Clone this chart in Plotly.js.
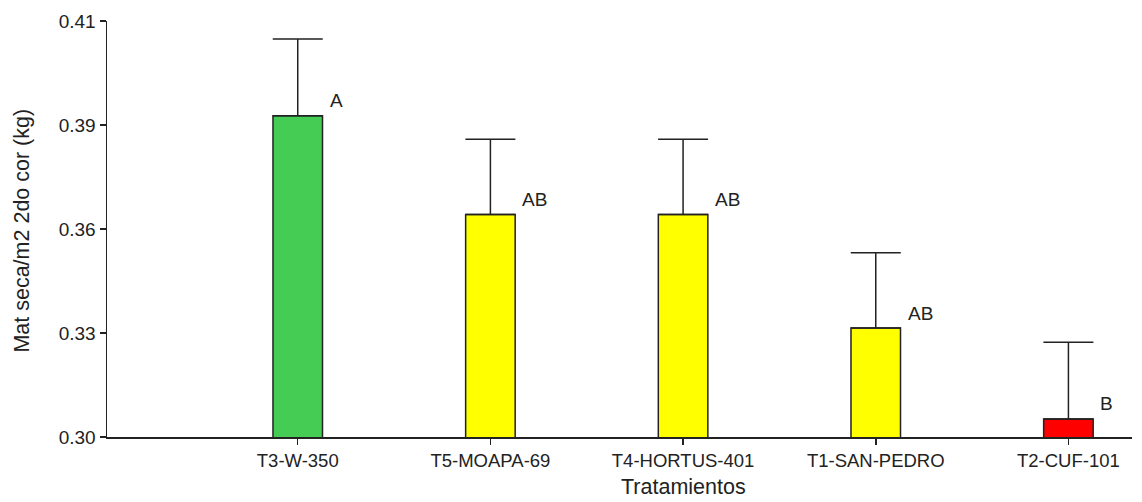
<!DOCTYPE html>
<html>
<head>
<meta charset="utf-8">
<script src="https://cdn.plot.ly/plotly-3.0.1.min.js"></script>
<style>html,body{margin:0;padding:0;background:#fff;}#chart{width:1142px;height:502px;}</style>
</head>
<body>
<div id="chart"></div>
<script>
var categories = ["T3-W-350", "T5-MOAPA-69", "T4-HORTUS-401", "T1-SAN-PEDRO", "T2-CUF-101"];
var means = [0.3888, 0.3615, 0.3615, 0.3301, 0.3050];
var errors = [0.0212, 0.0208, 0.0208, 0.0208, 0.0212];
var letters = ["A", "AB", "AB", "AB", "B"];
var barColors = ["#44CC55", "#FFFF00", "#FFFF00", "#FFFF00", "#FF0000"];
var yTickVals = [0.30, 0.32875, 0.3575, 0.38625, 0.415];
var yTickText = ["0.30", "0.33", "0.36", "0.39", "0.41"];

var xIdx = categories.map(function (c, i) { return i; });
var FONT = "Liberation Sans, Arial, sans-serif";

var trace = {
  type: "bar",
  x: xIdx,
  y: means,
  width: 0.257,
  marker: { color: barColors, line: { color: "#222", width: 1.5 } },
  error_y: {
    type: "data",
    symmetric: false,
    array: errors,
    arrayminus: errors.map(function () { return 0; }),
    color: "#222",
    thickness: 1.5,
    width: 25
  },
  hoverinfo: "none"
};

var annotations = letters.map(function (t, i) {
  return {
    x: i + 0.155, y: means[i], xref: "x", yref: "y",
    text: t, showarrow: false, xanchor: "left", yanchor: "middle", yshift: 15,
    font: { family: FONT, size: 19, color: "#222" }
  };
});
annotations.push({
  xref: "paper", yref: "paper", x: -0.0824, y: 0.495, text: "Mat seca/m2 2do cor (kg)",
  textangle: -90, showarrow: false, xanchor: "center", yanchor: "middle",
  font: { family: FONT, size: 21.5, color: "#222" }
});
annotations.push({
  xref: "x", yref: "paper", x: 2, y: -0.12, text: "Tratamientos",
  showarrow: false, xanchor: "center", yanchor: "middle", borderpad: 0,
  font: { family: FONT, size: 21.5, color: "#222" }
});

var layout = {
  width: 1142, height: 502,
  margin: { l: 107, r: 10, t: 21, b: 65 },
  paper_bgcolor: "#fff", plot_bgcolor: "#fff",
  showlegend: false,
  font: { family: FONT, size: 18, color: "#222" },
  xaxis: {
    range: [-0.99, 4.33],
    tickvals: xIdx, ticktext: categories,
    showline: true, linecolor: "#222", linewidth: 1.5,
    ticks: "outside", ticklen: 6, tickwidth: 1.5, tickcolor: "#222",
    showgrid: false, zeroline: false, automargin: false,
    tickfont: { family: FONT, size: 18.5, color: "#222" }
  },
  yaxis: {
    range: [0.30, 0.415],
    tickvals: yTickVals, ticktext: yTickText,
    showline: true, linecolor: "#222", linewidth: 1.5,
    ticks: "outside", ticklen: 6, tickwidth: 1.5, tickcolor: "#222",
    showgrid: false, zeroline: false, automargin: false,
    tickfont: { family: FONT, size: 19, color: "#222" }
  },
  annotations: annotations
};

Plotly.newPlot("chart", [trace], layout, { displayModeBar: false, staticPlot: true });
</script>
</body>
</html>
